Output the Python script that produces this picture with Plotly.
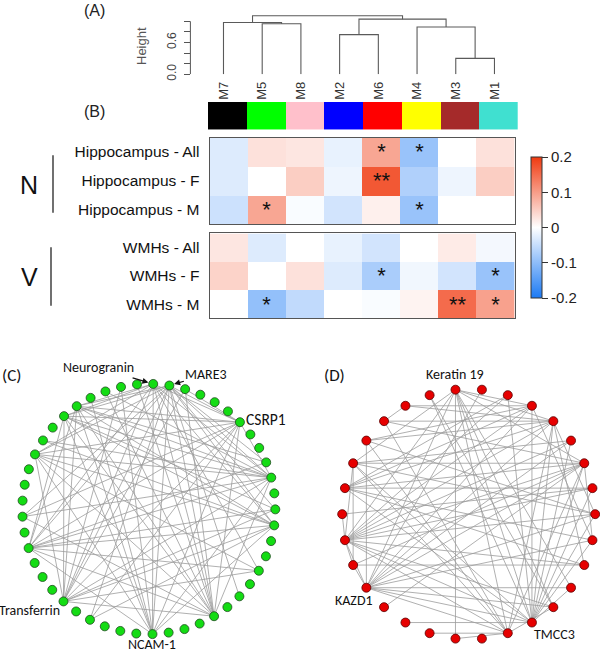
import numpy as np
import plotly.graph_objects as go

W, H = 600, 656

# ---------------- data ----------------
modules = ["M7", "M5", "M8", "M2", "M6", "M4", "M3", "M1"]
module_colors = ["#000000", "#00FF00", "#FFC0CB", "#0000FF", "#FF0000", "#FFFF00", "#A52A2A", "#40E0D0"]
# (left child, right child, merge height, name)
merges = [("M5", "M8", 0.953, "a"), ("M7", "a", 0.978, "b"), ("M3", "M1", 0.299, "c"),
          ("M4", "c", 0.891, "d"), ("M2", "M6", 0.748, "e"), ("e", "d", 1.040, "f"),
          ("b", "f", 1.103, "g")]
height_ticks = [0, 0.2, 0.4, 0.6, 0.8, 1.0]
height_ticklabels = ["0.0", "", "", "0.6", "", ""]

hippo_rows = ["Hippocampus - All", "Hippocampus - F", "Hippocampus - M"]
hippo_vals = [[-0.03, 0.03, 0.025, -0.02, 0.09, -0.09, 0.0, 0.03],
              [-0.03, 0.0, 0.05, -0.015, 0.17, -0.07, -0.015, 0.05],
              [-0.045, 0.09, -0.005, -0.04, 0.015, -0.09, 0.0, 0.0]]
hippo_stars = [["", "", "", "", "*", "*", "", ""],
               ["", "", "", "", "**", "", "", ""],
               ["", "*", "", "", "", "*", "", ""]]
wmh_rows = ["WMHs - All", "WMHs - F", "WMHs - M"]
wmh_vals = [[0.025, -0.03, 0.0, -0.02, -0.04, 0.0, 0.02, -0.01],
            [0.045, 0.0, 0.03, -0.03, -0.075, -0.012, -0.04, -0.09],
            [0.0, -0.095, -0.055, 0.0, -0.005, 0.012, 0.15, 0.095]]
wmh_stars = [["", "", "", "", "", "", "", ""],
             ["", "", "", "", "*", "", "", "*"],
             ["", "*", "", "", "", "", "**", "*"]]
cbar_ticks = [-0.2, -0.1, 0, 0.1, 0.2]
cbar_labels = ["-0.2", "-0.1", "0", "0.1", "0.2"]

C_n = 49
C_edges = [(0, 24), (0, 20), (0, 30), (0, 34), (0, 43), (0, 44), (0, 6), (0, 10), (0, 13), (0, 16), (0, 40),
           (1, 24), (1, 20), (1, 30), (1, 34), (1, 44), (1, 43), (1, 6), (1, 10), (1, 13), (1, 12), (1, 9),
           (1, 40), (1, 36), (1, 18), (1, 28), (2, 6), (2, 20), (2, 30),
           (6, 34), (6, 30), (6, 24), (6, 20), (6, 43), (6, 44), (6, 40), (6, 10), (6, 36), (6, 28),
           (10, 40), (10, 34), (10, 30), (10, 43), (10, 44), (10, 24), (10, 41), (10, 36),
           (13, 34), (13, 40), (13, 43), (13, 30), (13, 44), (13, 28),
           (20, 43), (20, 44), (20, 40), (20, 34), (20, 30), (20, 10), (20, 46),
           (24, 43), (24, 44), (24, 40), (24, 34), (24, 13), (24, 47),
           (30, 43), (30, 44), (30, 40), (30, 12), (30, 16),
           (34, 43), (34, 44), (34, 12), (34, 16), (34, 9),
           (44, 9), (43, 12), (40, 16), (41, 13), (36, 20), (45, 24), (46, 10), (48, 20), (47, 30)]
C_labels = {0: "Neurogranin", 1: "MARE3", 6: "CSRP1", 30: "Transferrin", 24: "NCAM-1"}

D_n = 30
D_edges = [(0, 3), (0, 4), (0, 13), (0, 14), (0, 20), (0, 22), (0, 6), (0, 16), (0, 11), (0, 25), (0, 12),
           (3, 28), (3, 26), (3, 13), (3, 22), (3, 20), (3, 9), (3, 24),
           (4, 28), (4, 26), (4, 27), (4, 22), (4, 20), (4, 14), (4, 13), (4, 8), (4, 24), (4, 10),
           (5, 22), (5, 13), (5, 20), (5, 25),
           (6, 25), (6, 22), (6, 20), (6, 24), (6, 21), (6, 13), (6, 14), (6, 27), (6, 9),
           (7, 22), (7, 13), (7, 24), (7, 23),
           (8, 22), (8, 20), (8, 13), (8, 26), (8, 25),
           (9, 20), (9, 13), (9, 24), (10, 21), (10, 22), (10, 24), (12, 22), (12, 14),
           (13, 18), (13, 22), (13, 20), (13, 24), (13, 25), (13, 11), (13, 2), (13, 29),
           (14, 20), (14, 22), (14, 25), (14, 26), (14, 16), (14, 27), (14, 17),
           (20, 26), (20, 22), (20, 21), (20, 11), (20, 12),
           (22, 21), (22, 25), (22, 23), (22, 2), (25, 21), (28, 27), (1, 20), (19, 6), (2, 24), (29, 12)]
D_labels = {0: "Keratin 19", 20: "KAZD1", 13: "TMCC3"}


# ---------------- helpers ----------------
def px(x):
    return x / W


def py(y):
    return 1 - y / H


fig = go.Figure()

# ---------------- (A) dendrogram ----------------
pos = {m: (i, 0.0) for i, m in enumerate(modules)}
dx, dy = [], []
for l, r, h, name in merges:
    x1, h1 = pos[l]
    x2, h2 = pos[r]
    dx += [x1, x1, x2, x2, None]
    dy += [h1, h, h, h2, None]
    pos[name] = ((x1 + x2) / 2, h)
fig.add_trace(go.Scatter(x=dx, y=dy, mode="lines", line=dict(color="#5a5a5a", width=1.1),
                         xaxis="x", yaxis="y", hoverinfo="skip", showlegend=False, cliponaxis=False))

# ---------------- (B) colour strip ----------------
cs = []
for i, c in enumerate(module_colors):
    cs += [[i / 8, c], [(i + 1) / 8, c]]
fig.add_trace(go.Heatmap(z=[list(range(8))], x=modules, colorscale=cs, zmin=-0.5, zmax=7.5,
                         showscale=False, xaxis="x2", yaxis="y2", hoverinfo="skip"))

# ---------------- heatmaps ----------------
txtfont = dict(size=22, color="#111111", family="Liberation Sans, Arial")
fig.add_trace(go.Heatmap(z=hippo_vals, x=modules, y=hippo_rows, text=hippo_stars, texttemplate="%{text}",
                         textfont=txtfont, coloraxis="coloraxis", xaxis="x3", yaxis="y3", hoverinfo="skip"))
fig.add_trace(go.Heatmap(z=wmh_vals, x=modules, y=wmh_rows, text=wmh_stars, texttemplate="%{text}",
                         textfont=txtfont, coloraxis="coloraxis", xaxis="x4", yaxis="y4", hoverinfo="skip"))


# ---------------- networks ----------------
def circle(n, start):
    a = np.deg2rad(start + 360.0 * np.arange(n) / n)
    return np.sin(a), np.cos(a)


def add_network(n, start, edges, color, line_color, xa, ya):
    x, y = circle(n, start)
    ex, ey = [], []
    for i, j in edges:
        ex += [x[i], x[j], None]
        ey += [y[i], y[j], None]
    fig.add_trace(go.Scatter(x=ex, y=ey, mode="lines", line=dict(color="#9c9c9c", width=0.8),
                             xaxis=xa, yaxis=ya, hoverinfo="skip", showlegend=False))
    fig.add_trace(go.Scatter(x=x, y=y, mode="markers",
                             marker=dict(size=9, color=color, line=dict(color=line_color, width=0.8)),
                             xaxis=xa, yaxis=ya, hoverinfo="skip", showlegend=False, cliponaxis=False))
    return x, y


Cx, Cy = add_network(C_n, 2.0, C_edges, "#14DC14", "#1f4a1f", "x5", "y5")
Dx, Dy = add_network(D_n, -6.0, D_edges, "#E60000", "#5a0000", "x6", "y6")

# ---------------- layout ----------------
noax = dict(showgrid=False, zeroline=False, showticklabels=False, ticks="")
R = 126.5
fig.update_layout(
    width=W, height=H, margin=dict(l=0, r=0, t=0, b=0),
    paper_bgcolor="white", plot_bgcolor="rgba(0,0,0,0)", showlegend=False,
    font=dict(family="Liberation Sans, Arial", color="#111111"),
    xaxis=dict(domain=[px(208), px(517.7)], range=[-0.4, 7.6], showgrid=False, zeroline=False,
               tickvals=list(range(8)), ticktext=modules, tickangle=-90, ticks="",
               tickfont=dict(size=13, color="#333333"), ticklabelstandoff=4, anchor="y"),
    yaxis=dict(domain=[py(75), py(10)], range=[0, 1.215], showgrid=False, zeroline=False,
               anchor="free", position=px(190.4), tickvals=height_ticks, ticktext=height_ticklabels,
               ticks="outside", ticklen=6, tickcolor="#555555", tickangle=-90,
               tickfont=dict(size=12, color="#444444"), ticklabelstandoff=4),
    xaxis2=dict(domain=[px(208), px(517.7)], range=[-0.5, 7.5], anchor="y2", **noax),
    yaxis2=dict(domain=[py(131), py(103)], range=[-0.5, 0.5], anchor="x2", **noax),
    xaxis3=dict(domain=[px(209.6), px(514.6)], range=[-0.5, 7.5], anchor="y3", showline=True, mirror=True,
                linecolor="#555555", linewidth=1, **noax),
    yaxis3=dict(domain=[py(226.7), py(139)], range=[2.5, -0.5], anchor="x3", showline=True, mirror=True,
                linecolor="#555555", linewidth=1, showgrid=False, zeroline=False, ticks="",
                tickfont=dict(size=15.5, color="#111111"), ticklabelstandoff=6),
    xaxis4=dict(domain=[px(209.6), px(514.6)], range=[-0.5, 7.5], anchor="y4", showline=True, mirror=True,
                linecolor="#555555", linewidth=1, **noax),
    yaxis4=dict(domain=[py(321.7), py(236)], range=[2.5, -0.5], anchor="x4", showline=True, mirror=True,
                linecolor="#555555", linewidth=1, showgrid=False, zeroline=False, ticks="",
                tickfont=dict(size=15.5, color="#111111"), ticklabelstandoff=6),
    xaxis5=dict(domain=[0, 0.5], range=[-148.8 / R, 151.2 / R], anchor="y5", **noax),
    yaxis5=dict(domain=[0, py(375)], range=[-(656 - 514.5) / R, (514.5 - 375) / R], anchor="x5", **noax),
    xaxis6=dict(domain=[0.5, 1], range=[-(468.7 - 300) / R, (600 - 468.7) / R], anchor="y6", **noax),
    yaxis6=dict(domain=[0, py(375)], range=[-(656 - 519.7) / R, (519.7 - 375) / R], anchor="x6", **noax),
    coloraxis=dict(cmin=-0.2, cmax=0.2,
                   colorscale=[[0, "rgb(28,122,244)"], [0.5, "rgb(255,255,255)"], [1, "rgb(240,58,16)"]],
                   colorbar=dict(x=px(531), xanchor="left", y=py(230), yanchor="middle",
                                 thickness=11, thicknessmode="pixels", len=141.4, lenmode="pixels",
                                 outlinewidth=1, outlinecolor="#333333", ticks="outside", ticklen=6,
                                 tickcolor="#333333", tickvals=cbar_ticks, ticktext=cbar_labels,
                                 tickfont=dict(size=15, color="#222222"), xpad=0, ypad=0)),
)

# dendrogram axis line (0 to 1.0 only, as in R)
fig.add_shape(type="line", xref="paper", yref="y", x0=px(190.4), x1=px(190.4), y0=0, y1=1.0,
              line=dict(color="#555555", width=1))


def note(text, x, y, font, angle=0, xanchor="center"):
    fig.add_annotation(text=text, x=px(x), y=py(y), xref="paper", yref="paper", showarrow=False,
                       xanchor=xanchor, yanchor="middle", textangle=angle, font=font)


lab = dict(family="Liberation Sans, Arial", size=16, color="#222222")
note("(A)", 94, 11, lab)
note("(B)", 94, 113, lab)
note("Height", 141.5, 47, dict(family="Liberation Sans, Arial", size=13, color="#555555"), angle=-90)
big = dict(family="Liberation Sans, Arial", size=25, color="#111111")
note("N", 29, 187, big)
note("V", 29, 280, big)
fig.add_shape(type="line", xref="paper", yref="paper", x0=px(53), x1=px(53), y0=py(157), y1=py(215),
              line=dict(color="#111111", width=1.2))
fig.add_shape(type="line", xref="paper", yref="paper", x0=px(51), x1=px(51), y0=py(250), y1=py(309),
              line=dict(color="#111111", width=1.2))

netfam = "Carlito, Lato, sans-serif"
net = dict(family=netfam, size=14, color="#111111")
note("(C)", 0, 380, dict(family=netfam, size=17, color="#111111"), xanchor="left")
note("(D)", 322, 380, dict(family=netfam, size=17, color="#111111"), xanchor="left")

# network (C) gene labels
fig.add_annotation(text=C_labels[0], x=Cx[0], y=Cy[0], xref="x5", yref="y5", ax=-55, ay=-16,
                   showarrow=True, arrowhead=2, arrowsize=1, arrowwidth=1.2, arrowcolor="#111111",
                   standoff=5, font=net)
fig.add_annotation(text=C_labels[1], x=Cx[1], y=Cy[1], xref="x5", yref="y5", ax=37, ay=-11,
                   showarrow=True, arrowhead=2, arrowsize=1, arrowwidth=1.2, arrowcolor="#111111",
                   standoff=5, font=net)
fig.add_annotation(text=C_labels[6], x=Cx[6], y=Cy[6], xref="x5", yref="y5", xanchor="left", yanchor="middle",
                   xshift=4, yshift=3, showarrow=False, font=dict(family=netfam, size=15.5, color="#111111"))
fig.add_annotation(text=C_labels[30], x=Cx[30], y=Cy[30], xref="x5", yref="y5", xanchor="right",
                   yanchor="middle", xshift=-1, yshift=-9, showarrow=False, font=net)
fig.add_annotation(text=C_labels[24], x=Cx[24], y=Cy[24], xref="x5", yref="y5", xanchor="center",
                   yanchor="middle", yshift=-10, showarrow=False, font=net)
# network (D) gene labels
fig.add_annotation(text=D_labels[0], x=Dx[0], y=Dy[0], xref="x6", yref="y6", xanchor="center",
                   yanchor="middle", yshift=15, showarrow=False, font=net)
fig.add_annotation(text=D_labels[20], x=Dx[20], y=Dy[20], xref="x6", yref="y6", xanchor="center",
                   yanchor="middle", xshift=-12, yshift=-13, showarrow=False, font=net)
fig.add_annotation(text=D_labels[13], x=Dx[13], y=Dy[13], xref="x6", yref="y6", xanchor="left",
                   yanchor="middle", xshift=0, yshift=-12, showarrow=False, font=net)

fig.write_html("out.html", config={"displayModeBar": False},
               post_script="document.body.style.margin='0px';")
